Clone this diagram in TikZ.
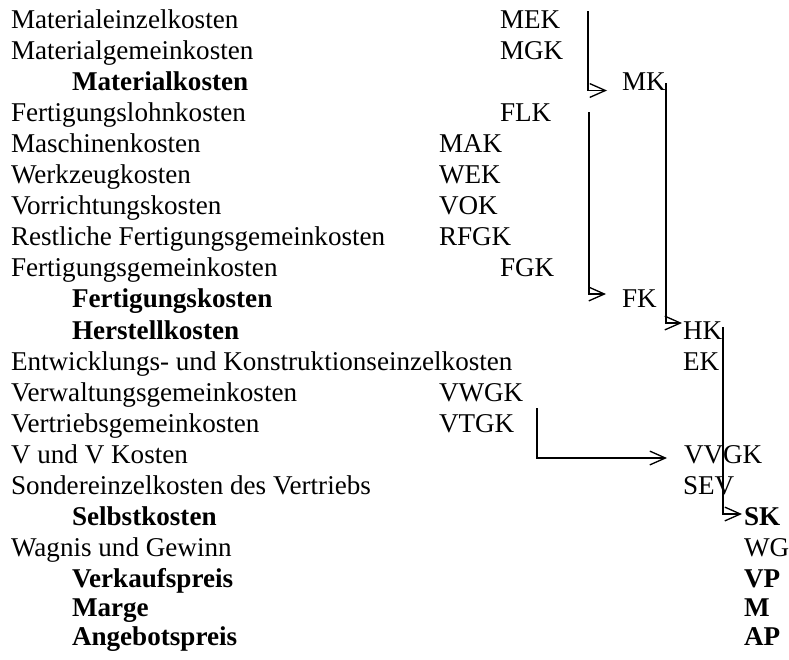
\documentclass[tikz,border=0pt]{standalone}
\usepackage{fontspec}
\setmainfont{Liberation Serif}
\usetikzlibrary{arrows.meta}
\begin{document}
\begin{tikzpicture}[x=0.45pt,y=-0.45pt,
  lbl/.style={anchor=base west,inner sep=0pt,outer sep=0pt,font=\fontsize{12.2pt}{14pt}\selectfont},
  bld/.style={lbl,font=\fontsize{12.2pt}{14pt}\selectfont\bfseries},
  conn/.style={line width=0.6pt,-{Straight Barb[length=7pt,width=6.2pt]}}]
\useasboundingbox (0,0) rectangle (789,659);
% left column
\node[lbl] (t1) at (11,28) {Materialeinzelkosten};
\node[lbl] (t2) at (11,59) {Materialgemeinkosten};
\node[bld] (t3) at (72,90.5) {Materialkosten};
\node[lbl] (t4) at (11,121.5) {Fertigungslohnkosten};
\node[lbl] (t5) at (11,152.5) {Maschinenkosten};
\node[lbl] (t6) at (11,183.5) {Werkzeugkosten};
\node[lbl] (t7) at (11,214.5) {Vorrichtungskosten};
\node[lbl] (t8) at (11,245.5) {Restliche Fertigungsgemeinkosten};
\node[lbl] (t9) at (11,276.5) {Fertigungsgemeinkosten};
\node[bld] (t10) at (72,307.5) {Fertigungskosten};
\node[bld] (t11) at (72,339) {Herstellkosten};
\node[lbl] (t12) at (11,370) {Entwicklungs- und Konstruktionseinzelkosten};
\node[lbl] (t13) at (11,401) {Verwaltungsgemeinkosten};
\node[lbl] (t14) at (11,432) {Vertriebsgemeinkosten};
\node[lbl] (t15) at (11,463) {V und V Kosten};
\node[lbl] (t16) at (11,494) {Sondereinzelkosten des Vertriebs};
\node[bld] (t17) at (72,525) {Selbstkosten};
\node[lbl] (t18) at (11,556) {Wagnis und Gewinn};
\node[bld] (t19) at (72,587) {Verkaufspreis};
\node[bld] (t20) at (72,616) {Marge};
\node[bld] (t21) at (72,645) {Angebotspreis};
% abbreviations
\node[lbl] (mek) at (500,28) {MEK};
\node[lbl] (mgk) at (500,59) {MGK};
\node[lbl] (mk) at (622,90.5) {MK};
\node[lbl] (flk) at (500,121.5) {FLK};
\node[lbl] (mak) at (439,152.5) {MAK};
\node[lbl] (wek) at (439,183.5) {WEK};
\node[lbl] (vok) at (439,214.5) {VOK};
\node[lbl] (rfgk) at (439,245.5) {RFGK};
\node[lbl] (fgk) at (500,276.5) {FGK};
\node[lbl] (fk) at (622,307.5) {FK};
\node[lbl] (hk) at (683,339) {HK};
\node[lbl] (ek) at (683,370) {EK};
\node[lbl] (vwgk) at (439,401) {VWGK};
\node[lbl] (vtgk) at (439,432) {VTGK};
\node[lbl] (vvgk) at (684,463) {VVGK};
\node[lbl] (sev) at (683,494) {SEV};
\node[bld] (sk) at (744,525) {SK};
\node[lbl] (wg) at (744,556) {WG};
\node[bld] (vp) at (744,587) {VP};
\node[bld] (m) at (744,616) {M};
\node[bld] (ap) at (744,645) {AP};
% connector ends
\coordinate (a1s) at (588,11);
\coordinate (a1e) at (607,90.5);
\coordinate (a2s) at (666,83);
\coordinate (a2e) at (682,323);
\coordinate (a3s) at (589,112);
\coordinate (a3e) at (606,294);
\coordinate (a4s) at (723,327);
\coordinate (a4e) at (742,514);
\coordinate (a5s) at (537,408);
\coordinate (a5e) at (667,458);
\draw[conn] (a1s) |- (a1e);
\draw[conn] (a2s) |- (a2e);
\draw[conn] (a3s) |- (a3e);
\draw[conn] (a4s) |- (a4e);
\draw[conn] (a5s) |- (a5e);
\end{tikzpicture}
\end{document}
